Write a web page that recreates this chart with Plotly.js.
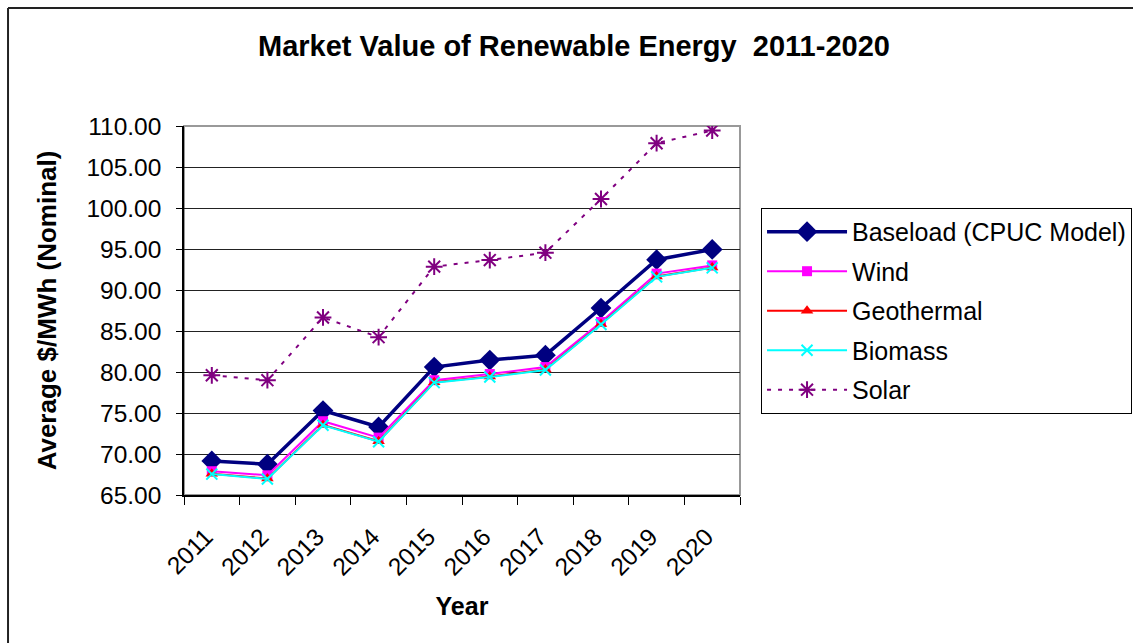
<!DOCTYPE html>
<html>
<head>
<meta charset="utf-8">
<script src="https://cdn.plot.ly/plotly-3.0.1.min.js"></script>
<style>
  html, body { margin: 0; padding: 0; background: #fff; }
  #chart { width: 1133px; height: 643px; }
</style>
</head>
<body>
<div id="chart"></div>
<script>
const years = ['2011','2012','2013','2014','2015','2016','2017','2018','2019','2020'];
const baseload   = [69.15, 68.75, 75.3, 73.3, 80.6, 81.45, 82.05, 87.8, 93.7, 94.95];
const wind       = [67.9, 67.4, 74.0, 72.0, 79.0, 79.75, 80.6, 86.1, 92.0, 93.0];
const geothermal = [67.6, 67.0, 73.55, 71.55, 78.75, 79.45, 80.3, 85.85, 91.65, 92.75];
const biomass    = [67.55, 66.95, 73.5, 71.5, 78.7, 79.4, 80.25, 85.8, 91.6, 92.7];
const solar      = [79.6, 79.0, 86.65, 84.25, 92.85, 93.65, 94.55, 101.1, 107.9, 109.45];
const seriesNames = ['Baseload (CPUC Model)', 'Wind', 'Geothermal', 'Biomass', 'Solar'];

const FONT = 'Liberation Sans, Arial, sans-serif';

const traces = [
  {
    x: years, y: baseload, name: seriesNames[0], type: 'scatter', mode: 'lines+markers',
    line: {color: '#000080', width: 3.5},
    marker: {symbol: 'diamond', size: 16, color: '#000080'},
    legendgroup: 'g1'
  },
  {
    x: years, y: wind, name: seriesNames[1], type: 'scatter', mode: 'lines+markers',
    line: {color: '#FF00FF', width: 2},
    marker: {symbol: 'square', size: 10, color: '#FF00FF'},
    legendgroup: 'g2'
  },
  {
    x: years, y: geothermal, name: seriesNames[2], type: 'scatter', mode: 'lines+markers',
    line: {color: '#FF0000', width: 2},
    marker: {symbol: 'triangle-up', size: 11, color: '#FF0000'},
    legendgroup: 'g3'
  },
  {
    x: years, y: biomass, name: seriesNames[3], type: 'scatter', mode: 'lines+markers',
    line: {color: '#00FFFF', width: 2},
    marker: {symbol: 'x-thin-open', size: 11, color: '#00FFFF', line: {color: '#00FFFF', width: 2}},
    legendgroup: 'g4'
  },
  {
    x: years, y: solar, name: seriesNames[4], type: 'scatter', mode: 'lines+markers',
    line: {color: '#800080', width: 2, dash: '4px,7px'},
    marker: {symbol: 'asterisk-open', size: 14, color: '#800080', line: {color: '#800080', width: 2}},
    legendgroup: 'g5'
  }
];

const layout = {
  width: 1133, height: 643,
  margin: {l: 184, r: 393, t: 126, b: 148},
  paper_bgcolor: '#fff', plot_bgcolor: '#fff',
  font: {family: FONT, color: '#000'},
  showlegend: true,
  title: {
    text: '<b>Market Value of Renewable Energy  2011-2020</b>',
    font: {family: FONT, size: 29, color: '#000'},
    x: 0.5066, xref: 'container', xanchor: 'center',
    y: 0.928, yref: 'container', yanchor: 'middle'
  },
  xaxis: {
    type: 'category',
    categoryorder: 'array', categoryarray: years,
    range: [-0.5, 9.5],
    tickangle: -45,
    tickfont: {family: FONT, size: 24.5, color: '#000'},
    ticks: 'outside', tickson: 'boundaries', ticklen: 8, tickcolor: '#000', tickwidth: 1,
    ticklabelstandoff: 16, ticklabelshift: -6,
    showline: true, linecolor: '#000', linewidth: 1.5,
    showgrid: false, zeroline: false,
    title: {text: '<b>Year</b>', font: {family: FONT, size: 25, color: '#000'}, standoff: 18}
  },
  yaxis: {
    range: [65, 110], dtick: 5, tick0: 65,
    tickformat: '.2f',
    tickfont: {family: FONT, size: 24.5, color: '#000'},
    ticks: 'outside', ticklen: 6, tickcolor: '#000', tickwidth: 1,
    ticklabelstandoff: 10,
    showline: true, linecolor: '#000', linewidth: 1.5,
    showgrid: true, gridcolor: '#222', gridwidth: 1,
    zeroline: false,
    title: {text: '<b>Average $/MWh (Nominal)</b>', font: {family: FONT, size: 26, color: '#000'}, standoff: 22}
  },
  legend: {
    xref: 'container', yref: 'container',
    x: 0.6717, xanchor: 'left', y: 0.6766, yanchor: 'top',
    bgcolor: '#fff', bordercolor: '#000', borderwidth: 1,
    font: {family: FONT, size: 25, color: '#000'},
    traceorder: 'grouped', tracegroupgap: 4,
    itemwidth: 80
  },
  shapes: [
    {type: 'rect', xref: 'paper', yref: 'paper', x0: 0, x1: 1, y0: 0, y1: 1,
     line: {color: '#999', width: 2}, layer: 'below'},
    {type: 'line', xref: 'paper', yref: 'paper', x0: -0.3165, x1: -0.3165, y0: -0.5, y1: 1.3198,
     line: {color: '#222', width: 2}},
    {type: 'line', xref: 'paper', yref: 'paper', x0: -0.3165, x1: 1.8, y0: 1.3198, y1: 1.3198,
     line: {color: '#222', width: 2}}
  ]
};

Plotly.newPlot('chart', traces, layout, {displayModeBar: false, responsive: false});
</script>
</body>
</html>
